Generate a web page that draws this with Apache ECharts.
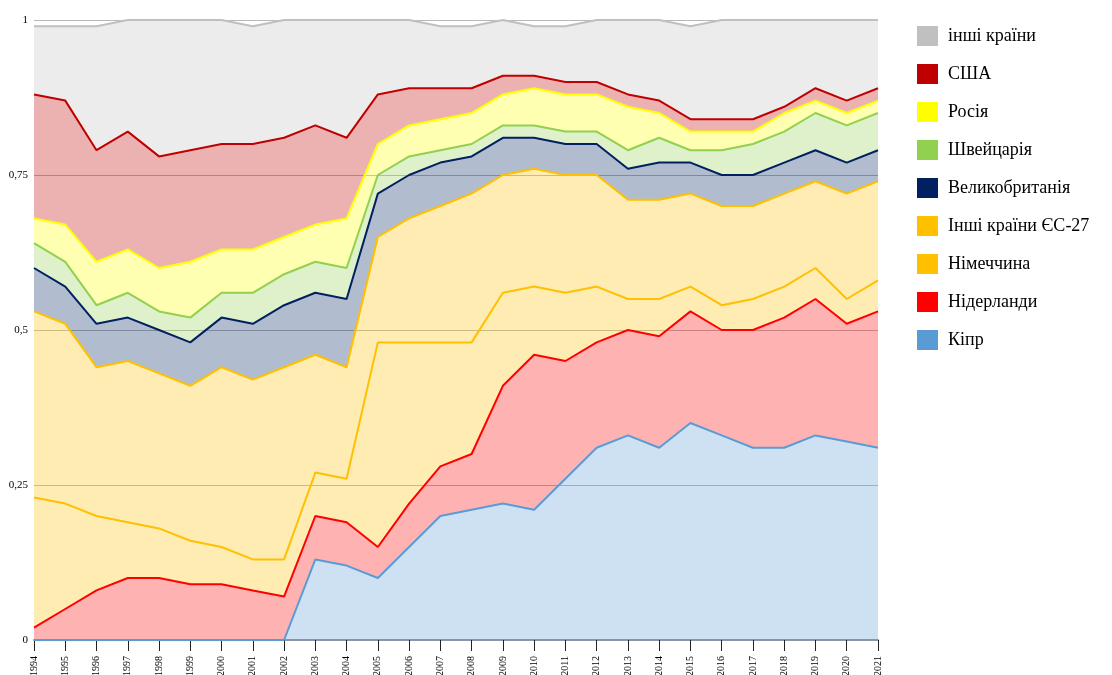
<!DOCTYPE html>
<html>
<head>
<meta charset="utf-8">
<script src="https://cdn.jsdelivr.net/npm/echarts@6/dist/echarts.min.js"></script>
<style>
  html, body { margin: 0; padding: 0; background: #fff; }
  #chart { width: 1112px; height: 675px; }
</style>
</head>
<body>
<div id="chart"></div>
<script>
var years = ['1994','1995','1996','1997','1998','1999','2000','2001','2002','2003','2004','2005','2006','2007',
  '2008','2009','2010','2011','2012','2013','2014','2015','2016','2017','2018','2019','2020','2021'];

var yTicks = [0, 0.25, 0.5, 0.75, 1];

// частки країн (знизу вгору)
var cyprus      = [0,0,0,0,0,0,0,0,0,0.13,0.12,0.10,0.15,0.20,0.21,0.22,0.21,0.26,0.31,0.33,0.31,0.35,0.33,0.31,0.31,0.33,0.32,0.31];
var netherlands = [0.02,0.05,0.08,0.10,0.10,0.09,0.09,0.08,0.07,0.07,0.07,0.05,0.07,0.08,0.09,0.19,0.25,0.19,0.17,0.17,0.18,0.18,0.17,0.19,0.21,0.22,0.19,0.22];
var germany     = [0.21,0.17,0.12,0.09,0.08,0.07,0.06,0.05,0.06,0.07,0.07,0.33,0.26,0.20,0.18,0.15,0.11,0.11,0.09,0.05,0.06,0.04,0.04,0.05,0.05,0.05,0.04,0.05];
var otherEU     = [0.30,0.29,0.24,0.26,0.25,0.25,0.29,0.29,0.31,0.19,0.18,0.17,0.20,0.22,0.24,0.19,0.19,0.19,0.18,0.16,0.16,0.15,0.16,0.15,0.15,0.14,0.17,0.16];
var uk          = [0.07,0.06,0.07,0.07,0.07,0.07,0.08,0.09,0.10,0.10,0.11,0.07,0.07,0.07,0.06,0.06,0.05,0.05,0.05,0.05,0.06,0.05,0.05,0.05,0.05,0.05,0.05,0.05];
var swiss       = [0.04,0.04,0.03,0.04,0.03,0.04,0.04,0.05,0.05,0.05,0.05,0.03,0.03,0.02,0.02,0.02,0.02,0.02,0.02,0.03,0.04,0.02,0.04,0.05,0.05,0.06,0.06,0.06];
var russia      = [0.04,0.06,0.07,0.07,0.07,0.09,0.07,0.07,0.06,0.06,0.08,0.05,0.05,0.05,0.05,0.05,0.06,0.06,0.06,0.07,0.04,0.03,0.03,0.02,0.03,0.02,0.02,0.02];
var usa         = [0.20,0.20,0.18,0.19,0.18,0.18,0.17,0.17,0.16,0.16,0.13,0.08,0.06,0.05,0.04,0.03,0.02,0.02,0.02,0.02,0.02,0.02,0.02,0.02,0.01,0.02,0.02,0.02];
var others      = [0.11,0.12,0.20,0.18,0.22,0.21,0.20,0.19,0.19,0.17,0.19,0.12,0.11,0.10,0.10,0.09,0.08,0.09,0.10,0.12,0.13,0.15,0.16,0.16,0.14,0.11,0.13,0.11];

var names  = ['Кіпр','Нідерланди','Німеччина','Інші країни ЄС-27','Великобританія','Швейцарія','Росія','США','інші країни'];
var colors = ['#5b9bd5','#ff0000','#ffc000','#ffc000','#002060','#92d050','#ffff00','#c00000','#c0c0c0'];
var values = [cyprus, netherlands, germany, otherEU, uk, swiss, russia, usa, others];

var series = names.map(function (n, i) {
  return {
    name: n,
    type: 'line',
    stack: 'total',
    data: values[i],
    symbol: 'none',
    lineStyle: { color: colors[i], width: 2 },
    itemStyle: { color: colors[i] },
    areaStyle: { color: colors[i], opacity: 0.3 },
    emphasis: { disabled: true }
  };
});

var chart = echarts.init(document.getElementById('chart'));
chart.setOption({
  animation: false,
  textStyle: { fontFamily: '"Liberation Serif", "DejaVu Serif", serif' },
  grid: { left: 34, right: 234, top: 20, bottom: 35, containLabel: false, outerBoundsMode: 'none' },
  legend: {
    data: names.slice().reverse(),
    orient: 'vertical',
    left: 912,
    top: 21,
    itemWidth: 21,
    itemHeight: 20,
    itemGap: 18,
    icon: 'rect',
    itemStyle: { borderRadius: 3 },
    textStyle: { fontSize: 18, color: '#000', fontFamily: '"Liberation Serif", serif', padding: [0, 0, 0, 5] }
  },
  xAxis: {
    type: 'category',
    boundaryGap: false,
    data: years,
    axisLine: { lineStyle: { color: '#8a96a8', width: 2 } },
    axisTick: { length: 11, lineStyle: { color: '#222', width: 1 } },
    axisLabel: { rotate: 90, fontSize: 10, color: '#000', margin: 16, interval: 0 },
    splitLine: { show: false }
  },
  yAxis: {
    type: 'value',
    min: 0,
    max: 1,
    interval: 0.25,
    axisLine: { show: false },
    axisTick: { show: false },
    axisLabel: {
      fontSize: 11, color: '#000', margin: 6,
      formatter: function (v) { return yTicks.indexOf(v) >= 0 ? String(v).replace('.', ',') : ''; }
    },
    splitLine: { lineStyle: { color: '#b8b8b8', width: 1 } }
  },
  series: series
});
</script>
</body>
</html>
